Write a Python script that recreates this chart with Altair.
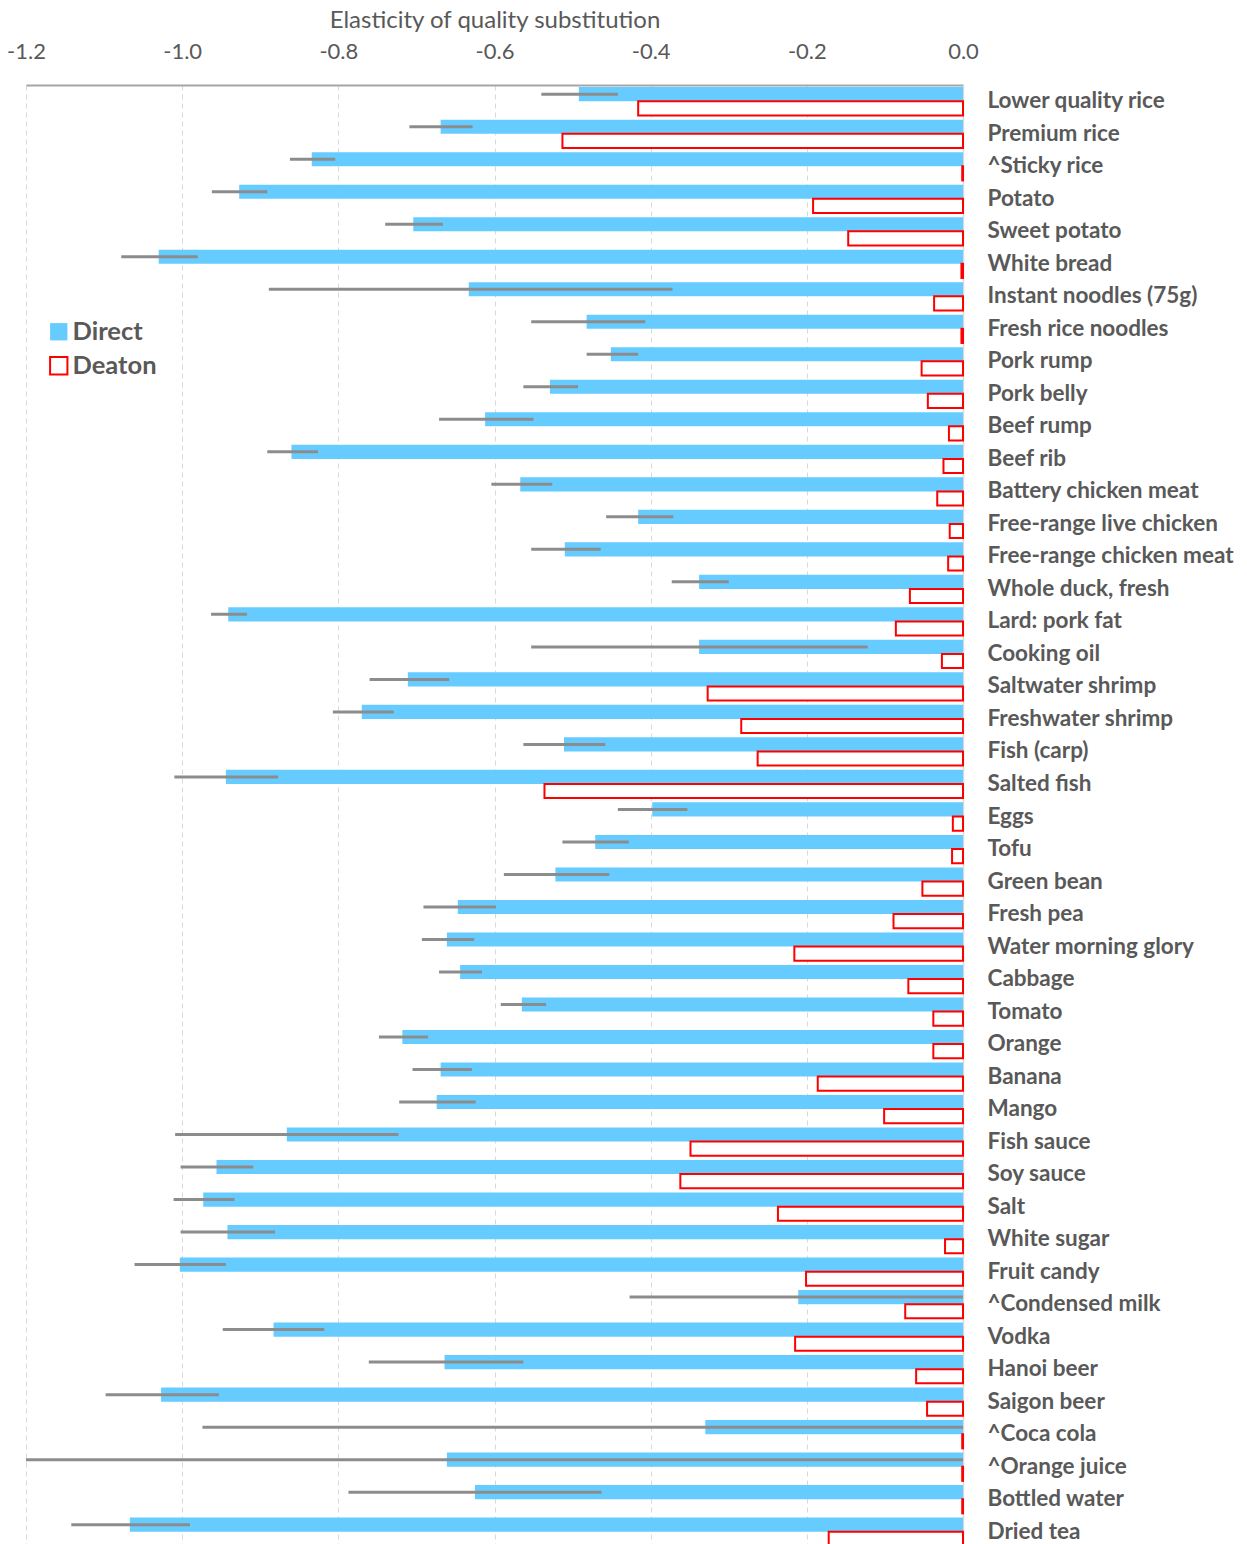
import altair as alt
import pandas as pd

categories = [
    "Lower quality rice", "Premium rice", "^Sticky rice", "Potato", "Sweet potato",
    "White bread", "Instant noodles (75g)", "Fresh rice noodles", "Pork rump", "Pork belly",
    "Beef rump", "Beef rib", "Battery chicken meat", "Free-range live chicken",
    "Free-range chicken meat", "Whole duck, fresh", "Lard: pork fat", "Cooking oil",
    "Saltwater shrimp", "Freshwater shrimp", "Fish (carp)", "Salted fish", "Eggs", "Tofu",
    "Green bean", "Fresh pea", "Water morning glory", "Cabbage", "Tomato", "Orange",
    "Banana", "Mango", "Fish sauce", "Soy sauce", "Salt", "White sugar", "Fruit candy",
    "^Condensed milk", "Vodka", "Hanoi beer", "Saigon beer", "^Coca cola",
    "^Orange juice", "Bottled water", "Dried tea",
]

direct = [
    -0.492, -0.669, -0.834, -0.927, -0.704, -1.030, -0.633, -0.482, -0.451, -0.529,
    -0.612, -0.860, -0.567, -0.416, -0.510, -0.338, -0.941, -0.338, -0.711, -0.770,
    -0.511, -0.944, -0.398, -0.471, -0.522, -0.647, -0.661, -0.644, -0.565, -0.718,
    -0.669, -0.674, -0.866, -0.956, -0.973, -0.942, -1.003, -0.211, -0.883, -0.664,
    -1.027, -0.330, -0.661, -0.625, -1.067,
]

direct_lo = [
    -0.540, -0.709, -0.862, -0.962, -0.740, -1.078, -0.889, -0.553, -0.482, -0.563,
    -0.671, -0.891, -0.604, -0.457, -0.553, -0.373, -0.963, -0.553, -0.760, -0.807,
    -0.563, -1.010, -0.442, -0.513, -0.588, -0.691, -0.693, -0.671, -0.592, -0.748,
    -0.705, -0.722, -1.009, -1.002, -1.011, -1.002, -1.061, -0.427, -0.948, -0.761,
    -1.098, -0.974, -1.200, -0.787, -1.142,
]

direct_hi = [
    -0.442, -0.628, -0.804, -0.891, -0.666, -0.980, -0.372, -0.407, -0.416, -0.493,
    -0.550, -0.826, -0.526, -0.371, -0.464, -0.300, -0.917, -0.122, -0.658, -0.729,
    -0.458, -0.877, -0.353, -0.428, -0.453, -0.598, -0.626, -0.616, -0.534, -0.685,
    -0.629, -0.624, -0.723, -0.909, -0.933, -0.881, -0.944, 0.000, -0.818, -0.563,
    -0.953, 0.000, 0.000, -0.463, -0.990,
]

deaton = [
    -0.416, -0.513, -0.001, -0.192, -0.147, -0.002, -0.037, -0.002, -0.053, -0.045,
    -0.018, -0.025, -0.033, -0.017, -0.019, -0.068, -0.086, -0.027, -0.327, -0.284,
    -0.263, -0.536, -0.013, -0.014, -0.052, -0.089, -0.216, -0.070, -0.038, -0.038,
    -0.186, -0.101, -0.349, -0.362, -0.237, -0.023, -0.201, -0.074, -0.215, -0.060,
    -0.046, -0.001, -0.001, -0.001, -0.172,
]

series_names = ["Direct", "Deaton"]
x_ticks = [-1.2, -1.0, -0.8, -0.6, -0.4, -0.2, 0.0]

BLUE = "#66CCFF"
RED = "#FF0000"
GRAY = "#8C8C8C"
TXT = "#595959"
FONT = "Lato"

rows = []
for c, d, e in zip(categories, direct, deaton):
    rows.append({"cat": c, "series": "Direct", "value": d})
    rows.append({"cat": c, "series": "Deaton", "value": e})
bars_df = pd.DataFrame(rows)
err_df = pd.DataFrame({"cat": categories, "series": "Direct", "lo": direct_lo, "hi": direct_hi})

x_scale = alt.Scale(domain=[-1.2, 0.0], nice=False)

y_enc = alt.Y(
    "cat:N",
    sort=categories,
    scale=alt.Scale(paddingInner=0, paddingOuter=0),
    axis=alt.Axis(
        orient="right", title=None, ticks=False, labelPadding=24,
        labelFont=FONT, labelFontSize=22.5, labelFontWeight="bold", labelColor=TXT,
        domainColor="#D9D9D9", domainWidth=1.5, grid=False, labelLimit=400,
    ),
)
yoff = alt.YOffset(
    "series:N",
    sort=series_names,
    scale=alt.Scale(domain=series_names, paddingInner=0, paddingOuter=0.15),
)

legend = alt.Legend(
    title=None, orient="none", legendX=20, legendY=234, symbolType="square",
    symbolSize=300, symbolStrokeWidth=2, labelFont=FONT, labelFontSize=25.5,
    labelFontWeight="bold", labelColor=TXT, rowPadding=7, labelOffset=1,
)

bars = alt.Chart(bars_df).mark_bar(strokeWidth=2).encode(
    x=alt.X(
        "value:Q", scale=x_scale,
        axis=alt.Axis(
            orient="top", title="Elasticity of quality substitution", values=x_ticks,
            labelExpr="(datum.value < 0 ? '-' : '') + format(abs(datum.value), '.1f')",
            ticks=False, tickSize=0, labelPadding=22, labelFlush=False,
            labelFont=FONT, labelFontSize=22,
            labelColor=TXT, titleFont=FONT, titleFontSize=24, titleFontWeight="normal",
            titleColor=TXT, titlePadding=8, domainColor="#A6A6A6", domainWidth=2,
            grid=True, gridDash=[5, 4], gridColor="#D9D9D9", gridWidth=1,
        ),
    ),
    y=y_enc,
    yOffset=yoff,
    fill=alt.Fill("series:N", scale=alt.Scale(domain=series_names, range=[BLUE, "white"]), legend=legend),
    stroke=alt.Stroke("series:N", scale=alt.Scale(domain=series_names, range=["transparent", RED]), legend=legend),
)

errs = alt.Chart(err_df).mark_rule(color=GRAY, strokeWidth=3).encode(
    x=alt.X("lo:Q", scale=x_scale),
    x2="hi:Q",
    y=y_enc,
    yOffset=yoff,
)

chart = (
    alt.layer(bars, errs)
    .properties(width=937, height=1463, padding={"left": 6, "top": 8, "right": 5, "bottom": 0})
    .configure_view(stroke=None)
)

chart.save("out.html", embed_options={"renderer": "svg", "actions": False})
